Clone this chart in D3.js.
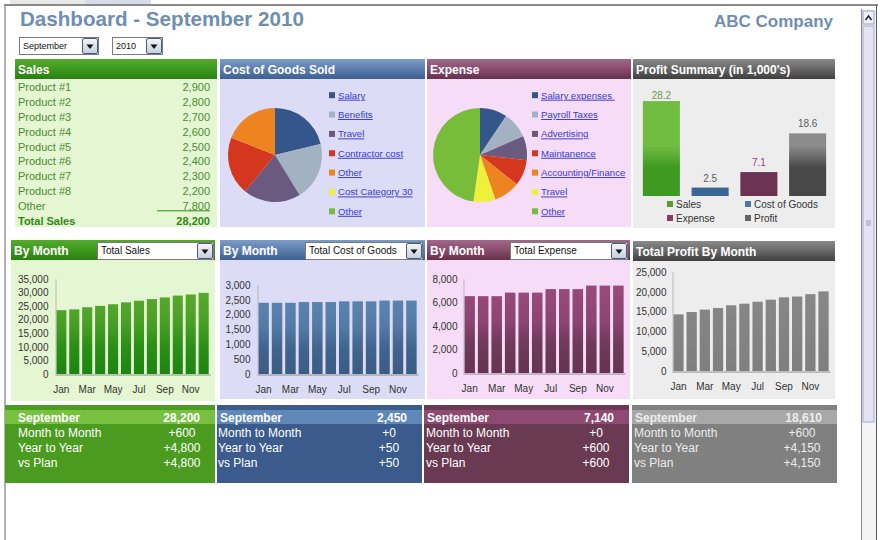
<!DOCTYPE html>
<html>
<head>
<meta charset="utf-8">
<script src="https://cdn.jsdelivr.net/npm/d3@7"></script>
<style>
body { margin: 0; background: #fff; }
svg { font-family: "Liberation Sans", Arial, sans-serif; display: block; }
</style>
</head>
<body>
<svg id="dash" width="880" height="540"></svg>
<script>
// ---- data ----
var products = ["Product #1", "Product #2", "Product #3", "Product #4", "Product #5",
    "Product #6", "Product #7", "Product #8", "Other"];
var productSales = [2900, 2800, 2700, 2600, 2500, 2400, 2300, 2200, 7800];
var totalSales = 28200;

var cogsCategories = ["Salary", "Benefits", "Travel", "Contractor cost", "Other", "Cost Category 30", "Other"];
var cogsValues = [520, 490, 485, 490, 465, 0, 0];

var expenseCategories = ["Salary expenses ", "Payroll Taxes", "Advertising", "Maintanence",
    "Accounting/Finance", "Travel", "Other"];
var expenseValues = [670, 650, 590, 640, 640, 540, 3410];

var sliceColors = ["#35568a", "#a3b2c3", "#6a5a80", "#d5361e", "#ee8420", "#eef03a", "#78bd3a"];

var summaryLabels = ["Sales", "Cost of Goods", "Expense", "Profit"];
var summaryValues = [28.2, 2.5, 7.1, 18.6];

var months = ["Jan", "Feb", "Mar", "Apr", "May", "Jun", "Jul", "Aug", "Sep", "Oct", "Nov", "Dec"];
var salesByMonth = [23500, 23800, 24600, 25100, 25700, 26400, 27000, 27600, 28200, 28900, 29300, 29900];
var cogsByMonth = [2400, 2400, 2400, 2425, 2425, 2425, 2450, 2450, 2450, 2475, 2475, 2475];
var expenseByMonth = [6540, 6540, 6540, 6840, 6840, 6840, 7140, 7140, 7140, 7440, 7440, 7440];
var profitByMonth = [14300, 14900, 15500, 15900, 16600, 17000, 17500, 18010, 18610, 18800, 19400, 20100];

var salesTicks = [0, 5000, 10000, 15000, 20000, 25000, 30000, 35000];
var cogsTicks = [0, 500, 1000, 1500, 2000, 2500, 3000];
var expenseTicks = [0, 2000, 4000, 6000, 8000];
var profitTicks = [0, 5000, 10000, 15000, 20000, 25000];

var changeRows = ["Month to Month", "Year to Year", "vs Plan"];
var monthTotals = ["28,200", "2,450", "7,140", "18,610"];
var salesChange = ["+600", "+4,800", "+4,800"];
var cogsChange = ["+0", "+50", "+50"];
var expenseChange = ["+0", "+600", "+600"];
var profitChange = ["+600", "+4,150", "+4,150"];

// ---- setup ----
var svg = d3.select("#dash");
var defs = svg.append("defs");
var fmt = d3.format(",");

function vgrad(id, stops, y1, y2) {
    var g = defs.append("linearGradient").attr("id", id)
        .attr("x1", 0).attr("x2", 0).attr("y1", y1 == null ? 0 : y1).attr("y2", y2 == null ? 1 : y2);
    if (y1 != null) g.attr("gradientUnits", "userSpaceOnUse").attr("x1", 0).attr("x2", 0);
    stops.forEach(function(s) {
        g.append("stop").attr("offset", s[0]).attr("stop-color", s[1]);
    });
}

vgrad("hGreen", [[0, "#55aa2c"], [0.5, "#3c9a1e"], [1, "#2a7e12"]]);
vgrad("hBlue", [[0, "#7c9cc8"], [0.5, "#5c7eae"], [1, "#3e6090"]]);
vgrad("hMaroon", [[0, "#a06888"], [0.5, "#8a4c6e"], [1, "#66304c"]]);
vgrad("hGray", [[0, "#8a8a8a"], [0.5, "#676767"], [1, "#3e3e3e"]]);
vgrad("btn", [[0, "#f4f6fa"], [1, "#c4cedc"]]);

// window chrome
svg.append("rect").attr("x", 10).attr("y", 0).attr("width", 75).attr("height", 4).attr("fill", "#e8e8e8");
svg.append("rect").attr("x", 85).attr("y", 0).attr("width", 66).attr("height", 4).attr("fill", "#d6dde8");
svg.append("line").attr("x1", 4).attr("x2", 878).attr("y1", 5).attr("y2", 5).attr("stroke", "#8a8a8a").attr("stroke-width", 2);
svg.append("line").attr("x1", 5).attr("x2", 5).attr("y1", 5).attr("y2", 540).attr("stroke", "#9a9a9a").attr("stroke-width", 1.5);
svg.append("rect").attr("x", 862).attr("y", 9).attr("width", 14).attr("height", 531).attr("fill", "#f3f3f5");
svg.append("line").attr("x1", 861.5).attr("x2", 861.5).attr("y1", 9).attr("y2", 540).attr("stroke", "#8a8a8a");
svg.append("line").attr("x1", 876.5).attr("x2", 876.5).attr("y1", 5).attr("y2", 540).attr("stroke", "#555");
svg.append("rect").attr("x", 863).attr("y", 11).attr("width", 11).attr("height", 13).attr("fill", "#eef0f8").attr("stroke", "#9aa0b8");
svg.append("path").attr("d", "M865.5,20 L868.5,16 L871.5,20").attr("fill", "none").attr("stroke", "#222").attr("stroke-width", 1.5);
svg.append("rect").attr("x", 863).attr("y", 26).attr("width", 11).attr("height", 396).attr("fill", "#e3e3f4").attr("stroke", "#a8a8c8");
svg.append("path").attr("d", "M866,221 h5 M866,223 h5 M866,225 h5").attr("stroke", "#9a9ab8");

// title
svg.append("text").attr("x", 20).attr("y", 26).text("Dashboard - September 2010")
    .attr("font-size", 20.6).attr("font-weight", "bold").attr("fill", "#6f8fb0");
svg.append("text").attr("x", 833).attr("y", 27).attr("text-anchor", "end").text("ABC Company")
    .attr("font-size", 17).attr("font-weight", "bold").attr("fill", "#6f8fb0");

function dropdown(x0, y0, w, h, label, fs) {
    var g = svg.append("g");
    g.append("rect").attr("x", x0 + 0.5).attr("y", y0 + 0.5).attr("width", w).attr("height", h)
        .attr("fill", "#fff").attr("stroke", "#7a7a7a");
    g.append("text").attr("x", x0 + 4).attr("y", y0 + h / 2 + 3.5).text(label)
        .attr("font-size", fs).attr("fill", "#111");
    var bx = x0 + w - 16;
    g.append("rect").attr("x", bx + 0.5).attr("y", y0 + 1.5).attr("width", 15).attr("height", h - 2)
        .attr("fill", "url(#btn)").attr("stroke", "#4c5c7c").attr("rx", 1.5);
    var cx = bx + 8, cy = y0 + h / 2 + 1;
    g.append("path").attr("d", "M" + (cx - 3.5) + "," + (cy - 2) + " L" + (cx + 3.5) + "," + (cy - 2) + " L" + cx + "," + (cy + 2.5) + "Z")
        .attr("fill", "#111");
}
dropdown(19, 37, 79, 17, "September", 9);
dropdown(112, 37, 50, 17, "2010", 9);

function panel(x0, x1, y0, y1, hdr, body, title) {
    svg.append("rect").attr("x", x0).attr("y", y0).attr("width", x1 - x0).attr("height", y1 - y0).attr("fill", body);
    svg.append("rect").attr("x", x0).attr("y", y0).attr("width", x1 - x0).attr("height", 20).attr("fill", "url(#" + hdr + ")");
    svg.append("text").attr("x", x0 + 3).attr("y", y0 + 14.5).text(title)
        .attr("font-size", 12).attr("font-weight", "bold").attr("fill", "#fff");
}

// ---- row 1 ----
panel(15, 217, 59, 227, "hGreen", "#e5f6d2", "Sales");
panel(220, 425, 59, 227, "hBlue", "#dcdcf7", "Cost of Goods Sold");
panel(427, 631, 59, 227, "hMaroon", "#f6dcf6", "Expense");
panel(633, 835, 59, 228, "hGray", "#ededed", "Profit Summary (in 1,000's)");

// sales table
var rowY = d3.scaleBand().domain(d3.range(products.length + 1)).range([80, 228]);
var salesTable = svg.append("g");
salesTable.selectAll("text.name").data(products).enter().append("text")
    .attr("x", 18).attr("y", function(d, i) { return rowY(i) + rowY.bandwidth() / 2 + 4; })
    .text(function(d) { return d; }).attr("font-size", 11).attr("fill", "#4a8c30");
salesTable.selectAll("text.val").data(productSales).enter().append("text")
    .attr("x", 210).attr("text-anchor", "end")
    .attr("y", function(d, i) { return rowY(i) + rowY.bandwidth() / 2 + 4; })
    .text(function(d) { return fmt(d); }).attr("font-size", 11).attr("fill", "#4a8c30");
var lastRow = products.length - 1;
salesTable.append("line").attr("x1", 157).attr("x2", 210)
    .attr("y1", rowY(lastRow) + rowY.bandwidth() / 2 + 5).attr("y2", rowY(lastRow) + rowY.bandwidth() / 2 + 5)
    .attr("stroke", "#2e8a18").attr("stroke-width", 1);
var totY = rowY(products.length) + rowY.bandwidth() / 2 + 4;
salesTable.append("text").attr("x", 18).attr("y", totY).text("Total Sales")
    .attr("font-size", 11).attr("font-weight", "bold").attr("fill", "#2e8a14");
salesTable.append("text").attr("x", 210).attr("y", totY).attr("text-anchor", "end").text(fmt(totalSales))
    .attr("font-size", 11).attr("font-weight", "bold").attr("fill", "#2e8a14");

// pies
function pieChart(cx, cy, r, values, cats, legendX) {
    var pie = d3.pie().sort(null).value(function(d) { return d; });
    var arc = d3.arc().innerRadius(0).outerRadius(r);
    svg.append("g").attr("transform", "translate(" + cx + "," + cy + ")")
        .selectAll("path").data(pie(values)).enter().append("path")
        .attr("d", arc).attr("fill", function(d, i) { return sliceColors[i]; });
    var ly = d3.scaleBand().domain(d3.range(cats.length)).range([85.5, 221]);
    var lg = svg.append("g");
    lg.selectAll("rect").data(cats).enter().append("rect")
        .attr("x", legendX).attr("y", function(d, i) { return ly(i) + ly.bandwidth() / 2 - 3; })
        .attr("width", 6).attr("height", 6).attr("fill", function(d, i) { return sliceColors[i]; });
    lg.selectAll("text").data(cats).enter().append("text")
        .attr("x", legendX + 9).attr("y", function(d, i) { return ly(i) + ly.bandwidth() / 2 + 3.5; })
        .text(function(d) { return d; }).attr("font-size", 9.6).attr("fill", "#3a3ad0")
        .attr("text-decoration", "underline").style("white-space", "pre");
}
pieChart(275, 155, 47, cogsValues, cogsCategories, 329);
pieChart(480, 155, 47, expenseValues, expenseCategories, 532);

// profit summary
var sumGrads = [
    ["sgSales", "#72bc42", "#3f9a22"],
    ["sgCogs", "#6690c0", "#3c6698"],
    ["sgExp", "#a04e84", "#6c3452"],
    ["sgProfit", "#8c8c8c", "#484848"]
];
sumGrads.forEach(function(s) {
    vgrad(s[0], [[0, s[1]], [0.5, s[1]], [0.72, s[2]], [1, s[2]]], 95, 196);
});
var sumColors = ["#55a030", "#4a78aa", "#8a3a6a", "#666666"];
var sumLabelColors = ["#6a9a50", "#555e6c", "#9a3a9a", "#5e5e5e"];
var sx = d3.scaleBand().domain(summaryLabels).range([637, 832]).paddingInner(0.24).paddingOuter(0.12);
var sy = d3.scaleLinear().domain([0, 30]).range([196, 95]);
var sg = svg.append("g");
sg.selectAll("rect").data(summaryValues).enter().append("rect")
    .attr("x", function(d, i) { return sx(summaryLabels[i]); }).attr("width", sx.bandwidth())
    .attr("y", function(d) { return sy(d); }).attr("height", function(d) { return sy(0) - sy(d); })
    .attr("fill", function(d, i) { return "url(#" + sumGrads[i][0] + ")"; });
sg.selectAll("text").data(summaryValues).enter().append("text")
    .attr("x", function(d, i) { return sx(summaryLabels[i]) + sx.bandwidth() / 2; })
    .attr("y", function(d) { return Math.max(sy(d) - 6, 98.5); })
    .attr("text-anchor", "middle").text(function(d) { return d; })
    .attr("font-size", 10).attr("fill", function(d, i) { return sumLabelColors[i]; });
var slg = svg.append("g");
summaryLabels.forEach(function(lab, i) {
    var lx = i % 2 === 0 ? 667 : 745, ly = i < 2 ? 204 : 218;
    slg.append("rect").attr("x", lx).attr("y", ly - 3).attr("width", 6).attr("height", 6).attr("fill", sumColors[i]);
    slg.append("text").attr("x", lx + 9).attr("y", ly + 3.5).text(lab).attr("font-size", 10).attr("fill", "#333");
});

// ---- row 2 ----
panel(11, 215, 240, 401, "hGreen", "#e5f6d2", "By Month");
panel(220, 425, 240, 399, "hBlue", "#dcdcf7", "By Month");
panel(427, 630, 240, 399, "hMaroon", "#f6dcf6", "By Month");
panel(633, 835, 241, 399, "hGray", "#ededed", "Total Profit By Month");
dropdown(97, 242, 116, 17, "Total Sales", 10);
dropdown(305, 242, 117, 17, "Total Cost of Goods", 10);
dropdown(510, 242, 117, 17, "Total Expense", 10);

vgrad("mgSales", [[0, "#5eae30"], [0.45, "#4aa026"], [0.7, "#2c9016"], [1, "#1c8410"]], 279, 374);
vgrad("mgCogs", [[0, "#6088b2"], [0.45, "#557ca8"], [0.7, "#41658f"], [1, "#3a5b85"]], 285, 374);
vgrad("mgExp", [[0, "#9c4c80"], [0.45, "#8c4472"], [0.7, "#6e3a58"], [1, "#66344f"]], 279, 373);
vgrad("mgProfit", [[0, "#8a8a8a"], [1, "#7f7f7f"]], 272, 371);

function monthChart(values, ticks, grad, x0, x1, yBase, yTop, pad) {
    var x = d3.scaleBand().domain(months).range([x0, x1]).paddingInner(0.22).paddingOuter(0.1);
    var y = d3.scaleLinear().domain([0, d3.max(ticks)]).range([yBase, yTop]);
    var g = svg.append("g");
    g.selectAll("rect").data(values).enter().append("rect")
        .attr("x", function(d, i) { return x(months[i]); }).attr("width", x.bandwidth())
        .attr("y", function(d) { return y(d); }).attr("height", function(d) { return y(0) - y(d); })
        .attr("fill", "url(#" + grad + ")");
    var ya = g.append("g").attr("transform", "translate(" + (x0 + 0.5) + ",0)")
        .call(d3.axisLeft(y).tickValues(ticks).tickSize(0).tickPadding(pad).tickFormat(fmt));
    var xa = g.append("g").attr("transform", "translate(0," + (yBase + 0.5) + ")")
        .call(d3.axisBottom(x).tickValues(months.filter(function(m, i) { return i % 2 === 0; }))
            .tickSize(0).tickPadding(11));
    [ya, xa].forEach(function(a) {
        a.select(".domain").attr("stroke", "#8e8e8e");
        a.selectAll("text").attr("font-size", 10).attr("fill", "#333")
            .attr("font-family", "Liberation Sans, Arial, sans-serif");
    });
    ya.select(".domain").attr("stroke", "#b8b8b8");
}
monthChart(salesByMonth, salesTicks, "mgSales", 55, 210, 374, 279, 7);
monthChart(cogsByMonth, cogsTicks, "mgCogs", 257, 418, 374, 285, 7);
monthChart(expenseByMonth, expenseTicks, "mgExp", 463, 625, 373, 279, 6);
monthChart(profitByMonth, profitTicks, "mgProfit", 672, 830, 371, 272, 6);

// ---- row 3 ----
function summaryPanel(x0, x1, body, band, textColor, total, changes, labelX, headX, valCx) {
    var g = svg.append("g");
    g.append("rect").attr("x", x0).attr("y", 405).attr("width", x1 - x0).attr("height", 78).attr("fill", body);
    g.append("rect").attr("x", x0).attr("y", 410).attr("width", x1 - x0).attr("height", 14).attr("fill", band);
    g.append("text").attr("x", headX).attr("y", 421.5).text("September")
        .attr("font-size", 12).attr("font-weight", "bold").attr("fill", textColor);
    g.append("text").attr("x", x1 - 15).attr("y", 421.5).attr("text-anchor", "end").text(total)
        .attr("font-size", 12).attr("font-weight", "bold").attr("fill", textColor);
    g.selectAll("text.lab").data(changeRows).enter().append("text")
        .attr("x", labelX).attr("y", function(d, i) { return 436.5 + i * 15; })
        .text(function(d) { return d; }).attr("font-size", 12).attr("fill", textColor);
    g.selectAll("text.chg").data(changes).enter().append("text")
        .attr("x", valCx).attr("y", function(d, i) { return 436.5 + i * 15; }).attr("text-anchor", "middle")
        .text(function(d) { return d; }).attr("font-size", 12).attr("fill", textColor);
}
summaryPanel(5, 215, "#4b9b20", "#78c140", "#fff", monthTotals[0], salesChange, 18, 18, 182);
summaryPanel(217, 422, "#3a5b8c", "#6088b6", "#fff", monthTotals[1], cogsChange, 218, 220, 389);
summaryPanel(424, 629, "#6a3a52", "#8e4a72", "#fff", monthTotals[2], expenseChange, 426, 427, 596);
summaryPanel(632, 837, "#808080", "#a8a8a8", "#ececec", monthTotals[3], profitChange, 634, 635, 802);
</script>
</body>
</html>
